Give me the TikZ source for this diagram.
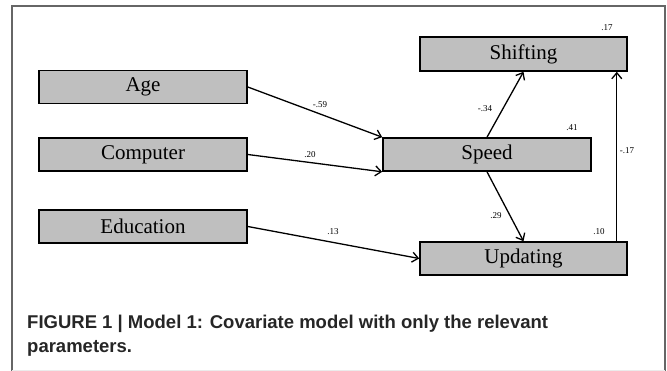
\documentclass[tikz,border=0pt]{standalone}
\usepackage{fontspec}
\setmainfont{Liberation Serif}
\newfontfamily\capfont{Liberation Sans}
\usetikzlibrary{arrows.meta,calc}
\tikzset{
  varbox/.style={draw=black, line width=1.6pt, fill=black!25, minimum width=208pt, minimum height=33pt, inner sep=0pt, font=\fontsize{21}{23}\selectfont},
  path/.style={line width=1.3pt, -{Straight Barb[length=6pt,width=10pt,line width=1.3pt]}},
  coef/.style={font=\fontsize{9}{10}\selectfont, inner sep=0pt},
  captxt/.style={font=\capfont\bfseries\fontsize{18.5}{22}\selectfont, text=black!85, anchor=base west, inner sep=0pt}
}
\begin{document}
\begin{tikzpicture}[x=1pt,y=-1pt]
\useasboundingbox (0,0) rectangle (667,371);
% frame
\draw[line width=1.6pt, black!60] (12,371) -- (12,6) -- (665,6) -- (665,371);
\draw[line width=0.8pt, black!8] (12,370) -- (665,370);
% nodes
\node[varbox] (age) at (143,87) {Age};
\node[varbox] (comp) at (143,154.5) {Computer};
\node[varbox] (edu) at (143,226.5) {Education};
\node[varbox] (speed) at (487,154.5) {Speed};
\node[varbox, minimum width=207pt, minimum height=34pt] (shift) at (523.5,54) {Shifting};
\node[varbox, minimum width=207pt] (upd) at (523.5,258.5) {Updating};
% paths
\draw[path] (age.east) -- (speed.north west);
\draw[path] (comp.east) -- (speed.south west);
\draw[path] (edu.east) -- (upd.west);
\draw[path] (speed.north) -- (shift.south);
\draw[path] (speed.south) -- (upd.north);
\draw[path] ([xshift=-11pt]upd.north east) -- ([xshift=-11pt]shift.south east);
% coefficients
\node[coef] (c1) at (320,105) {-.59};
\node[coef] (c2) at (310,155) {.20};
\node[coef] (c3) at (333,232) {.13};
\node[coef] (c4) at (485,109) {-.34};
\node[coef] (c5) at (496,216) {.29};
\node[coef] (c6) at (572,128) {.41};
\node[coef] (c7) at (607,28) {.17};
\node[coef] (c8) at (627,151) {-.17};
\node[coef] (c9) at (599,232) {.10};
% caption
\node[captxt] (cap1) at (27,329) {FIGURE 1 | Model 1: Covariate model with only the relevant};
\node[captxt] (cap2) at (27,353) {parameters.};
\end{tikzpicture}
\end{document}
